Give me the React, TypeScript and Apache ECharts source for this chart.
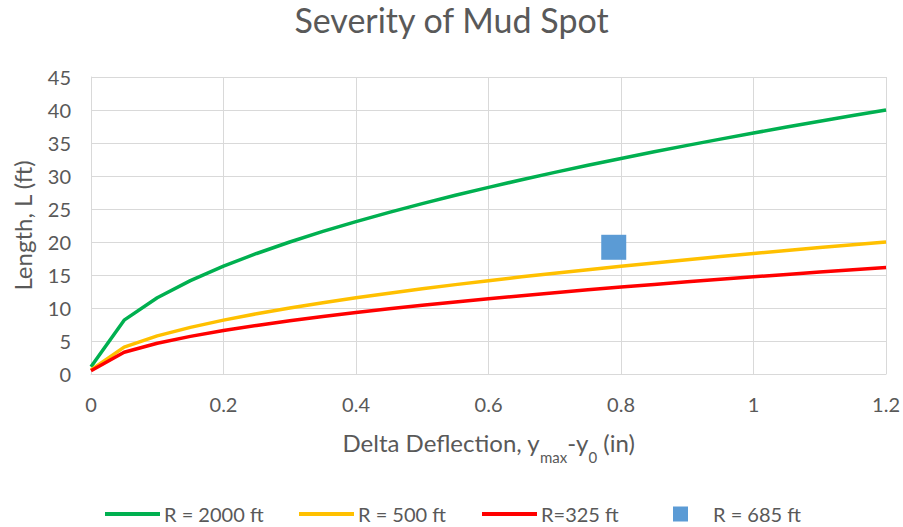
import React, { useEffect, useRef } from "react";
import * as echarts from "echarts";

const xValues = [0, 0.05, 0.1, 0.15, 0.2, 0.25, 0.3, 0.35, 0.4, 0.45, 0.5, 0.55, 0.6, 0.65, 0.7, 0.75, 0.8, 0.85, 0.9, 0.95, 1.0, 1.05, 1.1, 1.15, 1.2];
const r2000 = [1.1, 8.16, 11.55, 14.14, 16.33, 18.26, 20.0, 21.6, 23.09, 24.49, 25.82, 27.08, 28.28, 29.44, 30.55, 31.62, 32.66, 33.67, 34.64, 35.59, 36.51, 37.42, 38.3, 39.16, 40.0];
const r500 = [0.6, 4.08, 5.77, 7.07, 8.16, 9.13, 10.0, 10.8, 11.55, 12.25, 12.91, 13.54, 14.14, 14.72, 15.28, 15.81, 16.33, 16.83, 17.32, 17.8, 18.26, 18.71, 19.15, 19.58, 20.0];
const r325 = [0.5, 3.29, 4.65, 5.7, 6.58, 7.36, 8.06, 8.71, 9.31, 9.87, 10.41, 10.92, 11.4, 11.87, 12.32, 12.75, 13.17, 13.57, 13.96, 14.35, 14.72, 15.08, 15.44, 15.78, 16.12];
const r685Point = [0.789, 19.2];
const seriesNames = ["R = 2000 ft", "R = 500 ft", "R=325 ft", "R = 685 ft"];

const FONT = "Lato";
const GREY = "#595959";

export default function App() {
  const ref = useRef<HTMLDivElement>(null);
  useEffect(() => {
    const chart = echarts.init(ref.current!, null, { renderer: "svg" });
    const toPairs = (ys: number[]) => xValues.map((x, i) => [x, ys[i]]);
    const lineSeries = (name: string, ys: number[], color: string) => ({
      name,
      type: "line",
      data: toPairs(ys),
      showSymbol: false,
      symbol: "none",
      lineStyle: { color, width: 3.5, join: "round" },
      itemStyle: { color },
    });
    const legendBase = {
      top: 502,
      padding: 0,
      itemHeight: 4,
      itemWidth: 55,
      itemGap: 4,
      textStyle: { color: GREY, fontFamily: FONT, fontSize: 20, padding: [0, 0, 0, -1], lineHeight: 24 },
    };
    chart.setOption({
      animation: false,
      backgroundColor: "#fff",
      title: {
        text: "Severity of Mud Spot",
        left: "center",
        top: 2,
        padding: 0,
        textStyle: { color: GREY, fontFamily: FONT, fontSize: 34, fontWeight: "normal" },
      },
      grid: { left: 91, right: 16, top: 77, bottom: 153 },
      xAxis: {
        type: "value",
        min: 0,
        max: 1.2,
        interval: 0.2,
        name: "Delta Deflection, y{sub|max}-y{sub|0} (in)",
        nameLocation: "middle",
        nameGap: 56,
        nameTextStyle: {
          color: GREY,
          fontFamily: FONT,
          fontSize: 24,
          rich: { sub: { fontSize: 15, verticalAlign: "bottom", padding: [0, 0, -10, 0], color: GREY, fontFamily: FONT } },
        },
        axisLine: { show: true, lineStyle: { color: "#D9D9D9", width: 1 } },
        axisTick: { show: false },
        axisLabel: { color: GREY, fontFamily: FONT, fontSize: 20, margin: 20, formatter: (v: number) => String(Math.round(v * 10) / 10) },
        splitLine: { show: true, lineStyle: { color: "#D9D9D9", width: 1 } },
      },
      yAxis: {
        type: "value",
        min: 0,
        max: 45,
        interval: 5,
        name: "Length, L (ft)",
        nameLocation: "middle",
        nameGap: 57,
        nameTextStyle: { color: GREY, fontFamily: FONT, fontSize: 24 },
        axisLine: { show: true, lineStyle: { color: "#D9D9D9", width: 1 } },
        axisTick: { show: false },
        axisLabel: { color: GREY, fontFamily: FONT, fontSize: 20, margin: 20 },
        splitLine: { show: true, lineStyle: { color: "#D9D9D9", width: 1 } },
      },
      legend: [
        { ...legendBase, left: 105, data: [{ name: seriesNames[0], icon: "rect" }] },
        { ...legendBase, left: 299, data: [{ name: seriesNames[1], icon: "rect" }] },
        { ...legendBase, left: 482, data: [{ name: seriesNames[2], icon: "rect" }] },
        {
          ...legendBase,
          left: 673,
          itemWidth: 15,
          itemHeight: 15,
          textStyle: { ...legendBase.textStyle, padding: [0, 0, 0, 20] },
          data: [{ name: seriesNames[3], icon: "rect" }],
        },
      ],
      series: [
        lineSeries(seriesNames[0], r2000, "#00B050"),
        lineSeries(seriesNames[1], r500, "#FFC000"),
        lineSeries(seriesNames[2], r325, "#FF0000"),
        {
          name: seriesNames[3],
          type: "scatter",
          data: [r685Point],
          symbol: "rect",
          symbolSize: 25,
          itemStyle: { color: "#5B9BD5", opacity: 1 },
        },
      ],
    });
    return () => chart.dispose();
  }, []);
  return <div ref={ref} style={{ width: 903, height: 527, position: "absolute", left: 0, top: 0 }} />;
}
